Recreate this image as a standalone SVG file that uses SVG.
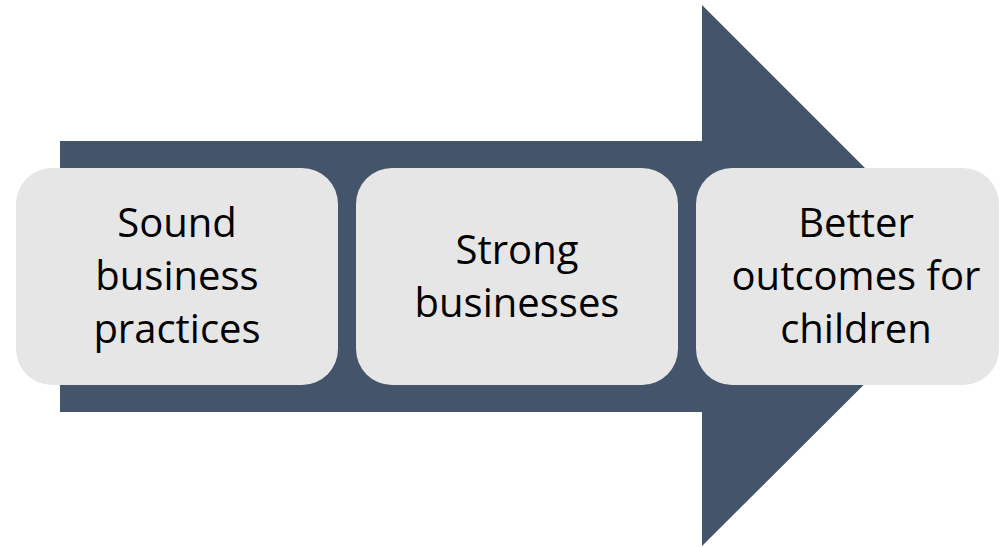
<svg xmlns="http://www.w3.org/2000/svg" width="1002" height="547" viewBox="0 0 1002 547">
  <style>
    .box { fill: #E7E6E6; }
    .lbl { font-family: "Open Sans", "Liberation Sans", Arial, sans-serif; font-size: 40px; fill: #000000; text-anchor: middle; }
  </style>
  <rect width="1002" height="547" fill="#FFFFFF"/>
  <g id="connectors">
    <path id="arrow" d="M60,141 H702 V5 L973,276 L702,546 V412 H60 Z" fill="#44546A"/>
  </g>
  <g id="node1">
    <rect class="box" x="16" y="168" width="322" height="217" rx="36" ry="36"/>
    <text class="lbl" x="177" y="237">Sound</text>
    <text class="lbl" x="177" y="290">business</text>
    <text class="lbl" x="177" y="343">practices</text>
  </g>
  <g id="node2">
    <rect class="box" x="356" y="168" width="322" height="217" rx="36" ry="36"/>
    <text class="lbl" x="517" y="264">Strong</text>
    <text class="lbl" x="517" y="317">businesses</text>
  </g>
  <g id="node3">
    <rect class="box" x="696" y="168" width="303" height="217" rx="36" ry="36"/>
    <text class="lbl" x="856" y="237">Better</text>
    <text class="lbl" x="856" y="290">outcomes for</text>
    <text class="lbl" x="856" y="343">children</text>
  </g>
</svg>
